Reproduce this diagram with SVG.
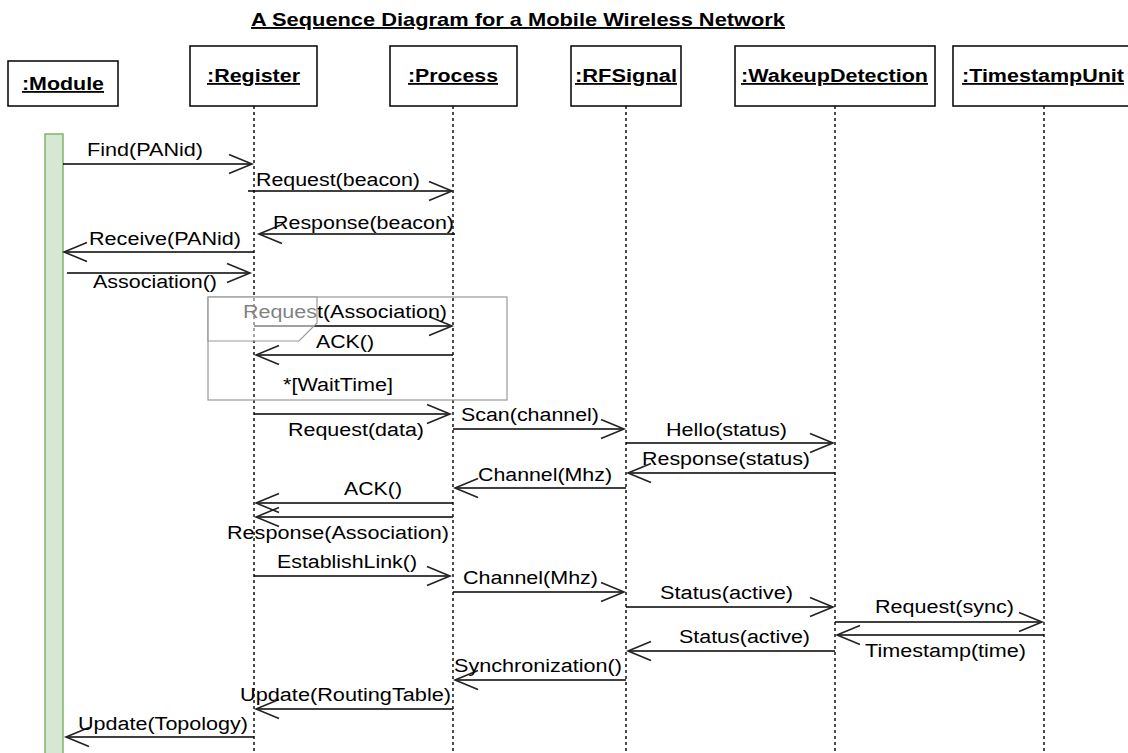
<svg xmlns="http://www.w3.org/2000/svg" width="1128" height="753" viewBox="0 0 1128 753">
<defs>
<style>
.t{font-family:"Liberation Sans",Arial,Helvetica,sans-serif;font-size:18px;fill:#000}
.h{font-family:"Liberation Sans",Arial,Helvetica,sans-serif;font-size:18px;font-weight:bold;fill:#000;text-decoration:underline}
.box{fill:#fff;stroke:#000;stroke-width:1.5}
.life{stroke:#000;stroke-width:1.4;stroke-dasharray:3 3;fill:none}
.msg{stroke:#000;stroke-width:1.4;fill:none;marker-end:url(#open)}
</style>
<marker id="open" markerUnits="userSpaceOnUse" markerWidth="30" markerHeight="24" refX="0" refY="0" orient="auto" style="overflow:visible">
<path d="M-23,-9.5 L0,0 L-23,9.5" fill="none" stroke="#222" stroke-width="1.6"/>
</marker>
</defs>
<rect x="0" y="0" width="1128" height="753" fill="#fff"/>
<text class="h" x="251" y="26" font-size="19" textLength="534" lengthAdjust="spacingAndGlyphs" style="font-size:19px">A Sequence Diagram for a Mobile Wireless Network</text>

<g id="module">
<rect class="box" x="8" y="61" width="110" height="45"/>
<text class="h" x="22" y="90" textLength="82" lengthAdjust="spacingAndGlyphs">:Module</text>
<rect x="45" y="134" width="18" height="625" fill="#d5e8d4" stroke="#82b366" stroke-width="1.5"/>
</g>
<g id="register">
<rect class="box" x="190" y="46" width="127" height="60"/>
<text class="h" x="207" y="82" textLength="93" lengthAdjust="spacingAndGlyphs">:Register</text>
<line class="life" x1="254" y1="106" x2="254" y2="753"/>
</g>
<g id="process">
<rect class="box" x="390" y="46" width="127" height="60"/>
<text class="h" x="408" y="82" textLength="90" lengthAdjust="spacingAndGlyphs">:Process</text>
<line class="life" x1="453" y1="106" x2="453" y2="753"/>
</g>
<g id="rfsignal">
<rect class="box" x="571" y="46" width="110" height="60"/>
<text class="h" x="575" y="82" textLength="102" lengthAdjust="spacingAndGlyphs">:RFSignal</text>
<line class="life" x1="626" y1="106" x2="626" y2="753"/>
</g>
<g id="wakeupdetection">
<rect class="box" x="735" y="46" width="200" height="60"/>
<text class="h" x="741" y="82" textLength="187" lengthAdjust="spacingAndGlyphs">:WakeupDetection</text>
<line class="life" x1="835" y1="106" x2="835" y2="753"/>
</g>
<g id="timestampunit">
<rect class="box" x="953" y="46" width="182" height="60"/>
<text class="h" x="962" y="82" textLength="162" lengthAdjust="spacingAndGlyphs">:TimestampUnit</text>
<line class="life" x1="1044" y1="106" x2="1044" y2="753"/>
</g>

<g id="connectors">
<line class="msg" x1="63" y1="164" x2="252" y2="164"/>
<text class="t" x="87" y="156" textLength="116" lengthAdjust="spacingAndGlyphs">Find(PANid)</text>

<line class="msg" x1="248" y1="191" x2="452" y2="191"/>
<text class="t" x="256" y="186" textLength="164" lengthAdjust="spacingAndGlyphs">Request(beacon)</text>

<line class="msg" x1="455" y1="234" x2="259" y2="234"/>
<text class="t" x="273" y="229" textLength="181" lengthAdjust="spacingAndGlyphs">Response(beacon)</text>

<line class="msg" x1="254" y1="252" x2="64" y2="252"/>
<text class="t" x="89" y="245" textLength="152" lengthAdjust="spacingAndGlyphs">Receive(PANid)</text>

<line class="msg" x1="67" y1="273" x2="250" y2="273"/>
<text class="t" x="93" y="288" textLength="124" lengthAdjust="spacingAndGlyphs">Association()</text>

<line class="msg" x1="254" y1="326" x2="452" y2="326"/>
<text class="t" x="243" y="318" textLength="204" lengthAdjust="spacingAndGlyphs">Request(Association)</text>

<line class="msg" x1="453" y1="355" x2="256" y2="355"/>
<text class="t" x="316" y="348" textLength="58" lengthAdjust="spacingAndGlyphs">ACK()</text>

<line class="msg" x1="254" y1="414" x2="450" y2="414"/>
<text class="t" x="288" y="436" textLength="136" lengthAdjust="spacingAndGlyphs">Request(data)</text>

<line class="msg" x1="453" y1="429" x2="624" y2="429"/>
<text class="t" x="461" y="421" textLength="138" lengthAdjust="spacingAndGlyphs">Scan(channel)</text>

<line class="msg" x1="626" y1="443" x2="833" y2="443"/>
<text class="t" x="666" y="436" textLength="121" lengthAdjust="spacingAndGlyphs">Hello(status)</text>

<line class="msg" x1="835" y1="473" x2="628" y2="473"/>
<text class="t" x="642" y="465" textLength="168" lengthAdjust="spacingAndGlyphs">Response(status)</text>

<line class="msg" x1="626" y1="488" x2="455" y2="488"/>
<text class="t" x="478" y="481" textLength="134" lengthAdjust="spacingAndGlyphs">Channel(Mhz)</text>

<line class="msg" x1="453" y1="503" x2="256" y2="503"/>
<text class="t" x="344" y="495" textLength="58" lengthAdjust="spacingAndGlyphs">ACK()</text>

<line class="msg" x1="453" y1="517" x2="256" y2="517"/>
<text class="t" x="227" y="539" textLength="222" lengthAdjust="spacingAndGlyphs">Response(Association)</text>

<line class="msg" x1="254" y1="576" x2="450" y2="576"/>
<text class="t" x="277" y="568" textLength="140" lengthAdjust="spacingAndGlyphs">EstablishLink()</text>

<line class="msg" x1="453" y1="592" x2="624" y2="592"/>
<text class="t" x="463" y="584" textLength="135" lengthAdjust="spacingAndGlyphs">Channel(Mhz)</text>

<line class="msg" x1="626" y1="607" x2="833" y2="607"/>
<text class="t" x="660" y="599" textLength="133" lengthAdjust="spacingAndGlyphs">Status(active)</text>

<line class="msg" x1="835" y1="622" x2="1042" y2="622"/>
<text class="t" x="875" y="613" textLength="139" lengthAdjust="spacingAndGlyphs">Request(sync)</text>

<line class="msg" x1="1044" y1="635" x2="837" y2="635"/>
<text class="t" x="865" y="657" textLength="161" lengthAdjust="spacingAndGlyphs">Timestamp(time)</text>

<line class="msg" x1="835" y1="651" x2="628" y2="651"/>
<text class="t" x="679" y="643" textLength="131" lengthAdjust="spacingAndGlyphs">Status(active)</text>

<line class="msg" x1="626" y1="680" x2="455" y2="680"/>
<text class="t" x="454" y="672" textLength="168" lengthAdjust="spacingAndGlyphs">Synchronization()</text>

<line class="msg" x1="453" y1="709" x2="256" y2="709"/>
<text class="t" x="240" y="701" textLength="211" lengthAdjust="spacingAndGlyphs">Update(RoutingTable)</text>

<line class="msg" x1="254" y1="737" x2="66" y2="737"/>
<text class="t" x="78" y="730" textLength="170" lengthAdjust="spacingAndGlyphs">Update(Topology)</text>
</g>

<g id="loop-frame">
<rect x="208" y="297" width="299" height="103" fill="none" stroke="#999" stroke-width="1.2"/>
<polygon points="208,297 317,297 317,323 299,341 208,341" fill="#fff" fill-opacity="0.5" stroke="#999" stroke-width="1.2"/>
<text class="t" x="283" y="391" textLength="110" lengthAdjust="spacingAndGlyphs">*[WaitTime]</text>
</g>
</svg>
